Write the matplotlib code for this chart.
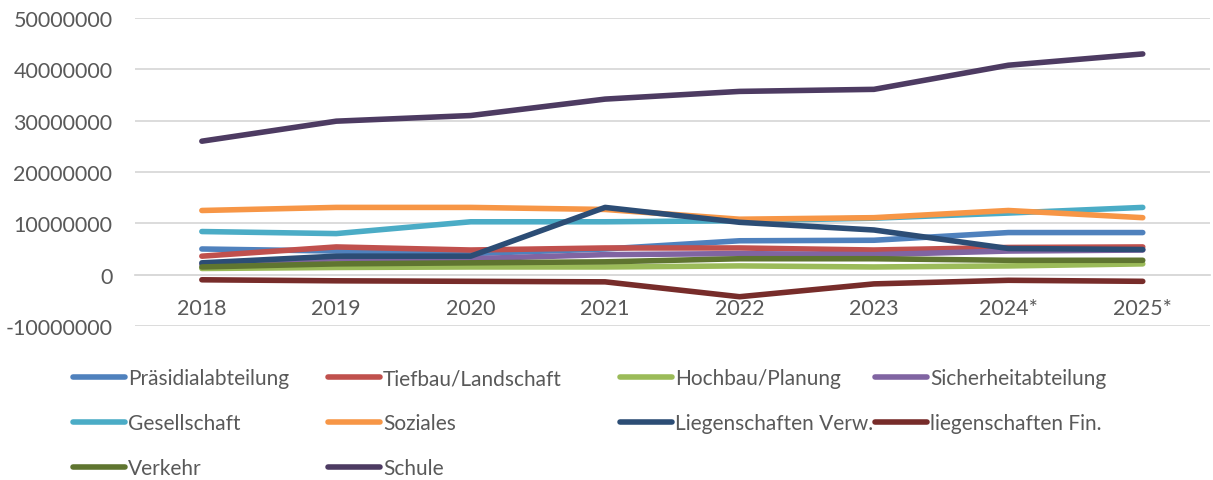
import matplotlib.pyplot as plt
import numpy as np

plt.rcParams['font.family'] = ['Lato', 'DejaVu Sans']

years = ['2018', '2019', '2020', '2021', '2022', '2023', '2024*', '2025*']

# values
praesidial = [5.0e6, 4.6e6, 4.1e6, 5.0e6, 6.6e6, 6.7e6, 8.2e6, 8.2e6]
tiefbau = [3.6e6, 5.4e6, 4.8e6, 5.2e6, 5.2e6, 4.8e6, 5.3e6, 5.4e6]
hochbau = [1.2e6, 1.4e6, 1.5e6, 1.5e6, 1.7e6, 1.5e6, 1.7e6, 2.1e6]
sicherheit = [2.0e6, 3.1e6, 3.1e6, 3.9e6, 4.1e6, 3.9e6, 4.6e6, 4.8e6]
gesellschaft = [8.4e6, 8.0e6, 10.3e6, 10.3e6, 10.5e6, 11.0e6, 12.0e6, 13.1e6]
soziales = [12.5e6, 13.1e6, 13.1e6, 12.7e6, 10.8e6, 11.1e6, 12.5e6, 11.1e6]
lieg_verw = [2.3e6, 3.6e6, 3.6e6, 13.1e6, 10.2e6, 8.7e6, 5.1e6, 4.9e6]
lieg_fin = [-1.0e6, -1.2e6, -1.3e6, -1.4e6, -4.3e6, -1.8e6, -1.1e6, -1.3e6]
verkehr = [1.5e6, 2.1e6, 2.3e6, 2.5e6, 3.1e6, 3.1e6, 2.8e6, 2.8e6]
schule = [26.0e6, 29.9e6, 31.0e6, 34.2e6, 35.7e6, 36.1e6, 40.8e6, 43.0e6]

series = [
    ('Präsidialabteilung', praesidial, '#4F81BD'),
    ('Tiefbau/Landschaft', tiefbau, '#C0504D'),
    ('Hochbau/Planung', hochbau, '#9BBB59'),
    ('Sicherheitabteilung', sicherheit, '#8064A2'),
    ('Gesellschaft', gesellschaft, '#4BACC6'),
    ('Soziales', soziales, '#F79646'),
    ('Liegenschaften Verw.', lieg_verw, '#2C4D75'),
    ('liegenschaften Fin.', lieg_fin, '#772C2A'),
    ('Verkehr', verkehr, '#5F7530'),
    ('Schule', schule, '#4D3B62'),
]

text_color = '#595959'

fig = plt.figure(figsize=(12.13, 4.81), dpi=100)
ax = fig.add_axes([0.111, 0.3202, 0.8865, 0.6403])

x = np.arange(len(years))
handles = {}
for name, vals, color in series:
    line, = ax.plot(x, vals, color=color, lw=4.0, solid_capstyle='round',
                    solid_joinstyle='round', label=name)
    handles[name] = line

ax.set_xlim(-0.5, len(years) - 0.5)
ax.set_ylim(-10e6, 50e6)
yt = np.arange(-10e6, 50e6 + 1, 10e6)
ax.set_yticks(yt)
ax.set_yticklabels([f'{int(v)}' for v in yt])
ax.yaxis.grid(True, color='#D9D9D9', lw=1.3)
ax.set_axisbelow(True)

for s in ax.spines.values():
    s.set_visible(False)
ax.spines['bottom'].set_visible(True)
ax.spines['bottom'].set_position(('data', 0))
ax.spines['bottom'].set_color('#D9D9D9')
ax.spines['bottom'].set_linewidth(1.3)

ax.set_xticks(x)
ax.set_xticklabels(years)
ax.tick_params(axis='x', length=0, pad=17, labelsize=15.5, labelcolor=text_color)
ax.tick_params(axis='y', length=0, pad=16, labelsize=15.5, labelcolor=text_color)

# legend: one block per column so the columns sit where Excel put them
columns = [
    ['Präsidialabteilung', 'Gesellschaft', 'Verkehr'],
    ['Tiefbau/Landschaft', 'Soziales', 'Schule'],
    ['Hochbau/Planung', 'Liegenschaften Verw.'],
    ['Sicherheitabteilung', 'liegenschaften Fin.'],
]
col_x = [73, 328, 620, 875]
for names, px in zip(columns, col_x):
    leg = fig.legend([handles[n] for n in names], names, ncol=1,
                     loc='upper left', bbox_to_anchor=(px / 1213, 0.232),
                     frameon=False, fontsize=15, handlelength=2.5,
                     handletextpad=0.15, labelspacing=1.2,
                     borderaxespad=0, borderpad=0)
    for t in leg.get_texts():
        t.set_color(text_color)

fig.savefig('out.png', dpi=100)
